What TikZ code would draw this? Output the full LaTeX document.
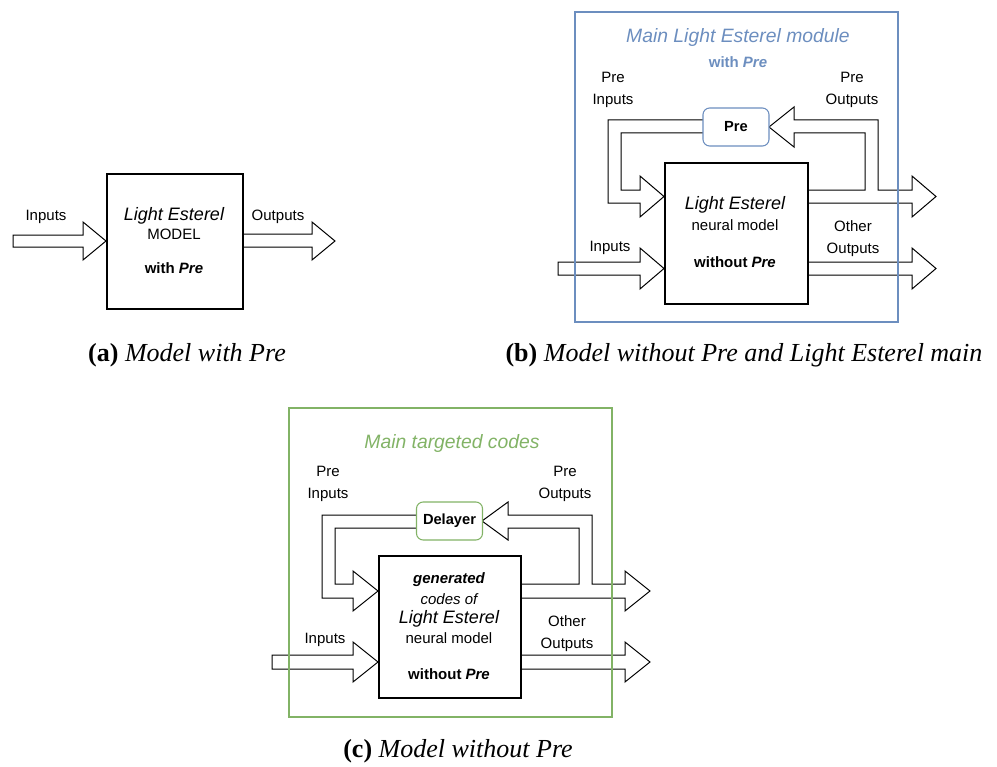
\documentclass[tikz,border=0pt]{standalone}
\usepackage{fontspec}
\setmainfont{Liberation Sans}
\newfontfamily\capfont{Liberation Serif}
\definecolor{frameblue}{HTML}{6C8EBF}
\definecolor{framegreen}{HTML}{82B366}
\tikzset{
  mainbox/.style={draw=black, line width=1.5pt, fill=white, inner sep=0pt, anchor=north west},
  subbox/.style={draw, line width=0.8pt, fill=white, rounded corners=5pt, inner sep=0pt,
    minimum width=49.5pt, minimum height=28.5pt, font=\fontsize{11}{13}\selectfont\bfseries},
  frame/.style={line width=1.5pt},
  barrow/.style={draw=black, fill=white, line width=0.75pt, line join=miter},
  lbl/.style={font=\fontsize{11.25}{16.5}\selectfont, align=center, inner sep=0pt},
  boxtitle/.style={font=\fontsize{13.5}{15}\selectfont\itshape, inner sep=0pt},
  boxtext/.style={font=\fontsize{11.25}{13.5}\selectfont, inner sep=0pt},
  boxbold/.style={font=\fontsize{11.25}{13.5}\selectfont\bfseries, inner sep=0pt},
  frametitle/.style={font=\fontsize{14.5}{16}\selectfont\itshape, inner sep=0pt},
  caption/.style={font=\fontsize{19.5}{22}\selectfont\capfont, inner sep=0pt},
}
\begin{document}
\begin{tikzpicture}[x=0.75pt,y=-0.75pt]
\useasboundingbox (0,0) rectangle (997,767);

% ---------------- (a) model with Pre ----------------
\draw[barrow] (13,235) -- (83,235) -- (83,222) -- (106,241) -- (83,260) -- (83,247) -- (13,247) -- cycle;
\draw[barrow] (242,234) -- (312,234) -- (312,222) -- (335,241) -- (312,260) -- (312,247) -- (242,247);
\node[mainbox, minimum width=102pt, minimum height=101.25pt] (boxA) at (106,173) {};
\node[lbl] (inA) at (46,217) {Inputs};
\node[lbl] (outA) at (278,217) {Outputs};
\node[boxtitle] (tA1) at (174,216) {Light Esterel};
\node[boxtext] (tA2) at (174,234) {MODEL};
\node[boxbold] (tA3) at (174,268) {with \textit{Pre}};
\node[caption] (capA) at (187,355) {\textbf{(a)} \textit{Model with Pre}};

% ---------------- (b) model without Pre, Light Esterel main ----------------
% feedback from the model to Pre, plus the outgoing Pre outputs
\draw[barrow] (807,190) -- (865,190) -- (865,133) -- (794,133) -- (794,147) -- (769,127)
  -- (794,107) -- (794,120) -- (878,120) -- (878,190) -- (912,190) -- (912,176)
  -- (936,196.5) -- (912,217) -- (912,203) -- (807,203);
% Pre back into the model
\draw[barrow] (703,120) -- (608,120) -- (608,203) -- (640,203) -- (640,217) -- (664,196.5)
  -- (640,176) -- (640,190) -- (621,190) -- (621,133) -- (703,133);
\draw[barrow] (558,262) -- (640,262) -- (640,248) -- (664,268.5) -- (640,289) -- (640,275) -- (558,275) -- cycle;
\draw[barrow] (807,262) -- (912,262) -- (912,248) -- (936,268.5) -- (912,289) -- (912,275) -- (807,275);
\node[mainbox, minimum width=107.25pt, minimum height=105.75pt] (boxB) at (664,162) {};
\node[subbox, draw=frameblue] (preB) at (736,127) {Pre};
\node[frametitle, text=frameblue] (titleB) at (738,38) {Main Light Esterel module};
\node[boxbold, text=frameblue] (withB) at (738,62) {with \textit{Pre}};
\node[lbl] (preinB) at (613,90) {Pre\\Inputs};
\node[lbl] (preoutB) at (852,90) {Pre\\Outputs};
\node[lbl] (inB) at (610,248) {Inputs};
\node[lbl] (othB) at (853,239) {Other\\Outputs};
\node[boxtitle] (tB1) at (735,205) {Light Esterel};
\node[boxtext] (tB2) at (735,225) {neural model};
\node[boxbold] (tB3) at (735,262) {without \textit{Pre}};
\draw[frame, draw=frameblue] (575,12) rectangle (898,322);
\node[caption] (capB) at (744,355) {\textbf{(b)} \textit{Model without Pre and Light Esterel main}};

% ---------------- (c) model without Pre, targeted codes ----------------
\draw[barrow] (520,584) -- (579,584) -- (579,528) -- (508,528) -- (508,540) -- (482,521)
  -- (508,502) -- (508,515) -- (592,515) -- (592,584) -- (625,584) -- (625,571)
  -- (650,591) -- (625,611) -- (625,598) -- (520,598);
\draw[barrow] (417,515) -- (322,515) -- (322,598) -- (353,598) -- (353,611) -- (378,591)
  -- (353,571) -- (353,584) -- (335,584) -- (335,528) -- (417,528);
\draw[barrow] (272,655) -- (353,655) -- (353,642) -- (378,662) -- (353,682) -- (353,669) -- (272,669) -- cycle;
\draw[barrow] (520,655) -- (625,655) -- (625,642) -- (650,662) -- (625,682) -- (625,669) -- (520,669);
\node[mainbox, minimum width=106.5pt, minimum height=106.5pt] (boxC) at (378,555) {};
\node[subbox, draw=framegreen] (delC) at (449.5,521) {Delayer};
\node[frametitle, text=framegreen] (titleC) at (452,443) {Main targeted codes};
\node[lbl] (preinC) at (328,484) {Pre\\Inputs};
\node[lbl] (preoutC) at (565,484) {Pre\\Outputs};
\node[lbl] (inC) at (325,640) {Inputs};
\node[lbl] (othC) at (567,634) {Other\\Outputs};
\node[boxbold] (tC1) at (449,580) {\itshape generated};
\node[boxtext] (tC2) at (449,599) {\itshape codes of};
\node[boxtitle] (tC3) at (449,619) {Light Esterel};
\node[boxtext] (tC4) at (449,638) {neural model};
\node[boxbold] (tC5) at (449,674) {without \textit{Pre}};
\draw[frame, draw=framegreen] (289,408) rectangle (612,717);
\node[caption] (capC) at (458,751) {\textbf{(c)} \textit{Model without Pre}};
\end{tikzpicture}
\end{document}
